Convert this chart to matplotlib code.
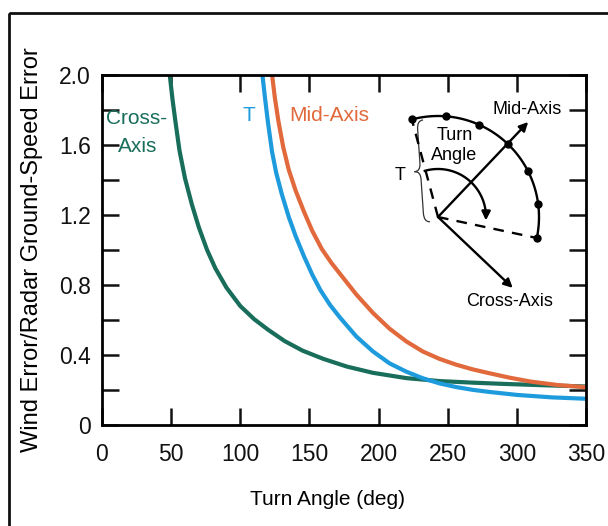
import numpy as np
import matplotlib.pyplot as plt
from matplotlib.patches import PathPatch, Rectangle
from matplotlib.path import Path
from matplotlib.ticker import FixedLocator

plt.rcParams["font.family"] = ["Liberation Sans", "DejaVu Sans"]

GREEN = "#186d5b"
BLUE = "#1e9bdc"
ORANGE = "#e1693c"

# error ratio vs. turn angle for the three turn-axis definitions
cross_angle = [49, 51, 53, 56, 60, 65, 70, 76, 82, 90, 100, 110, 120, 132,
               145, 160, 177, 196, 220, 244, 268, 290, 320, 350]
cross_err = [2.00, 1.86, 1.74, 1.57, 1.41, 1.26, 1.13, 1.00, 0.895, 0.785,
             0.68, 0.605, 0.545, 0.48, 0.425, 0.378, 0.334, 0.298, 0.268,
             0.251, 0.242, 0.235, 0.227, 0.22]

t_angle = [116, 118, 120, 123, 126, 130, 135, 140, 146, 152, 158, 165, 172,
           184, 196, 208, 220, 232, 244, 256, 268, 280, 300, 325, 350]
t_err = [2.00, 1.86, 1.73, 1.56, 1.44, 1.32, 1.19, 1.08, 0.965, 0.86, 0.77,
         0.685, 0.615, 0.505, 0.42, 0.352, 0.305, 0.267, 0.238, 0.217, 0.201,
         0.189, 0.172, 0.158, 0.15]

mid_angle = [123, 125, 127.5, 131, 135, 140, 146, 152, 159, 166, 172, 184,
             196, 208, 220, 232, 244, 256, 268, 280, 295, 310, 330, 350]
mid_err = [2.00, 1.87, 1.74, 1.59, 1.46, 1.34, 1.22, 1.11, 1.005, 0.925, 0.865,
           0.745, 0.64, 0.55, 0.478, 0.42, 0.378, 0.345, 0.318, 0.296, 0.27,
           0.248, 0.228, 0.216]

x_ticks = [0, 50, 100, 150, 200, 250, 300, 350]
y_major = [0, 0.4, 0.8, 1.2, 1.6, 2.0]
y_major_labels = ["0", "0.4", "0.8", "1.2", "1.6", "2.0"]
y_minor = [0.2, 0.6, 1.0, 1.4, 1.8]

W, H = 608, 526


def draw_sketch(ov):
    """Turn geometry sketch in pixel coordinates (y grows downward)."""
    ox, oy = 438, 217
    r = 101
    a0, a1 = 105, -12
    lw = 1.7

    th = np.radians(np.linspace(a0, a1, 80))
    ov.plot(ox + r * np.cos(th), oy - r * np.sin(th), color="k", lw=lw,
            solid_capstyle="round")
    dots = np.radians(np.linspace(a0, a1, 7))
    ov.plot(ox + r * np.cos(dots), oy - r * np.sin(dots), "o", color="k", ms=5)

    for a in (a0, a1):
        ar = np.radians(a)
        ov.plot([ox, ox + r * np.cos(ar)], [oy, oy - r * np.sin(ar)],
                color="k", lw=lw, ls=(0, (4.5, 3.5)))

    arrow = dict(arrowstyle="-|>", color="k", lw=lw, mutation_scale=13,
                 shrinkA=0, shrinkB=0)
    mid = np.radians((a0 + a1) / 2)
    ov.annotate("", xy=(ox + 131 * np.cos(mid), oy - 131 * np.sin(mid)),
                xytext=(ox, oy), arrowprops=arrow)
    cross = mid - np.pi / 2
    ov.annotate("", xy=(ox + 103 * np.cos(cross), oy - 103 * np.sin(cross)),
                xytext=(ox, oy), arrowprops=arrow)

    # turn-angle arc
    rt = 48
    th = np.radians(np.linspace(106, -4, 60))
    ax_, ay_ = ox + rt * np.cos(th), oy - rt * np.sin(th)
    ov.plot(ax_[:-3], ay_[:-3], color="k", lw=lw)
    ov.annotate("", xy=(ax_[-1], ay_[-1]), xytext=(ax_[-4], ay_[-4]),
                arrowprops=arrow)

    # brace for T
    L, w = 102, 12
    d = np.array([7.0, 102.0])
    d /= np.hypot(*d)
    n = np.array([d[1], -d[0]])
    top = np.array([423.0, 120.0]) - w * n
    local = [(w, 0), (w / 2, 0), (w / 2, 9), (w / 2, L / 2 - 8),
             (w / 2, L / 2), (0, L / 2), (w / 2, L / 2), (w / 2, L / 2 + 8),
             (w / 2, L - 9), (w / 2, L), (w, L)]
    verts = [top + u * d + v * n for v, u in local]
    codes = [Path.MOVETO, Path.CURVE3, Path.CURVE3, Path.LINETO,
             Path.CURVE3, Path.CURVE3, Path.CURVE3, Path.CURVE3,
             Path.LINETO, Path.CURVE3, Path.CURVE3]
    ov.add_patch(PathPatch(Path(verts, codes), fill=False, lw=0.9, color="#333333"))

    fs = 13
    ov.text(400, 176, "T", fontsize=fs, ha="center", va="center")
    ov.text(455, 135, "Turn", fontsize=fs, ha="center", va="center")
    ov.text(454, 156, "Angle", fontsize=fs, ha="center", va="center")
    ov.text(527, 110, "Mid-Axis", fontsize=fs, ha="center", va="center")
    ov.text(510, 301, "Cross-Axis", fontsize=fs, ha="center", va="center")


fig = plt.figure(figsize=(W / 100, H / 100), dpi=100, facecolor="white")
ax = fig.add_axes([102 / W, 1 - 425 / H, 484 / W, 350 / H])

ax.plot(cross_angle, cross_err, color=GREEN, lw=3, solid_joinstyle="round")
ax.plot(t_angle, t_err, color=BLUE, lw=3, solid_joinstyle="round")
ax.plot(mid_angle, mid_err, color=ORANGE, lw=3, solid_joinstyle="round")

ax.set_xlim(0, 350)
ax.set_ylim(0, 2.0)

ax.xaxis.set_major_locator(FixedLocator(x_ticks))
ax.set_xticklabels([str(v) for v in x_ticks])
ax.yaxis.set_major_locator(FixedLocator(y_major))
ax.set_yticklabels(y_major_labels)
ax.yaxis.set_minor_locator(FixedLocator(y_minor))

ax.tick_params(which="both", direction="in", length=12, width=1.8,
               top=True, right=True, labelsize=16.5, colors="#111111")
ax.tick_params(axis="x", pad=13)
ax.tick_params(axis="y", pad=8)
for s in ax.spines.values():
    s.set_linewidth(2.0)

ax.set_xlabel("Turn Angle (deg)", fontsize=15, va="center")
ax.xaxis.set_label_coords(0.465, -0.214)
ax.set_ylabel("Wind Error/Radar Ground-Speed Error", fontsize=17, va="center")
ax.yaxis.set_label_coords(-0.144, 0.5)

ax.text(2.9, 1.754, "Cross-", color=GREEN, fontsize=15, va="center", ha="left")
ax.text(11.6, 1.594, "Axis", color=GREEN, fontsize=15, va="center", ha="left")
ax.text(106, 1.766, "T", color=BLUE, fontsize=15, va="center", ha="center")
ax.text(135.2, 1.766, "Mid-Axis", color=ORANGE, fontsize=15, va="center", ha="left")

ov = fig.add_axes([0, 0, 1, 1], zorder=5)
ov.set_xlim(0, W)
ov.set_ylim(H, 0)
ov.axis("off")
ov.patch.set_alpha(0)
ov.add_patch(Rectangle((9, 13), 800, 800, fill=False, lw=2.0, color="#111111"))
draw_sketch(ov)

fig.savefig("out.png", dpi=100, facecolor="white")
